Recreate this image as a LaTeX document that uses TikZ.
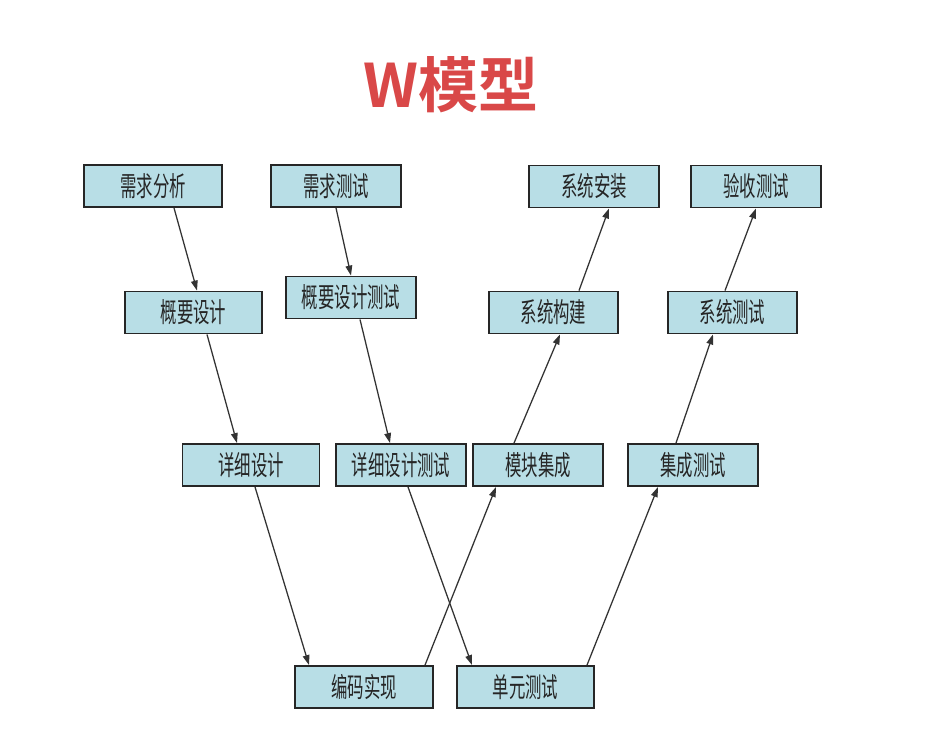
\documentclass[tikz,border=0pt]{standalone}
\usepackage{fontspec}
\newfontfamily\cjk[FakeStretch=0.6]{Noto Sans CJK SC}
\newfontfamily\cjkbold{Noto Sans CJK SC Bold}
\usetikzlibrary{arrows.meta,calc}
\definecolor{boxfill}{HTML}{B8DEE6}
\definecolor{boxline}{HTML}{262626}
\definecolor{arrline}{HTML}{333333}
\definecolor{titlered}{HTML}{D94848}
\begin{document}
\begin{tikzpicture}[x=0.75pt,y=-0.75pt,
  stagebox/.style={draw=boxline,fill=boxfill,line width=1.4pt,inner sep=0pt,
    minimum height=31.5pt,font=\cjk\fontsize{20.5pt}{22pt}\selectfont,text=black!85},
  arr/.style={draw=arrline,line width=0.95pt,-{Triangle[length=7.5pt,width=5pt]}}]
\fill[white] (0,0) rectangle (944,744);
\useasboundingbox (0,0) rectangle (944,744);
\node[font=\cjkbold\fontsize{45pt}{48pt}\selectfont,text=titlered] (title) at (451,85) {W模型};
% row 1
\node[stagebox,minimum width=103.5pt] (n1) at (153,186) {需求分析};
\node[stagebox,minimum width=97.5pt] (n2) at (336,186) {需求测试};
\node[stagebox,minimum width=97.5pt] (n3) at (594,186.5) {系统安装};
\node[stagebox,minimum width=97.5pt] (n4) at (756,186.5) {验收测试};
% row 2
\node[stagebox,minimum width=102.75pt] (r2a) at (193.5,312.5) {概要设计};
\node[stagebox,minimum width=97.5pt] (r2b) at (351,297.5) {概要设计测试};
\node[stagebox,minimum width=96.75pt] (r2c) at (553.5,312.5) {系统构建};
\node[stagebox,minimum width=96.75pt] (r2d) at (732.5,312.5) {系统测试};
% row 3
\node[stagebox,minimum width=102.75pt] (r3a) at (251,465) {详细设计};
\node[stagebox,minimum width=97.5pt] (r3b) at (401,465) {详细设计测试};
\node[stagebox,minimum width=97.5pt] (r3c) at (538,465) {模块集成};
\node[stagebox,minimum width=97.5pt] (r3d) at (693,465) {集成测试};
% row 4
\node[stagebox,minimum width=103.5pt] (r4a) at (364,687) {编码实现};
\node[stagebox,minimum width=102.75pt] (r4b) at (525.5,687) {单元测试};
% arrows
\draw[arr] ($(n1.south)+(21,0)$) -- ($(r2a.north)+(3.5,0)$);
\draw[arr] ($(n2.south)+(0,0)$) -- ($(r2b.north)+(0,0)$);
\draw[arr] ($(r2a.south)+(13.5,0)$) -- ($(r3a.north)+(-14,0)$);
\draw[arr] ($(r2b.south)+(9,0)$) -- ($(r3b.north)+(-11,0)$);
\draw[arr] ($(r3a.south)+(4,0)$) -- ($(r4a.north)+(-55,0)$);
\draw[arr] ($(r3b.south)+(7,0)$) -- ($(r4b.north)+(-53.5,0)$);
\draw[arr] ($(r4a.north)+(61,0)$) -- ($(r3c.south)+(-42,0)$);
\draw[arr] ($(r4b.north)+(61.5,0)$) -- ($(r3d.south)+(-35,0)$);
\draw[arr] ($(r3c.north)+(-24,0)$) -- ($(r2c.south)+(6.5,0)$);
\draw[arr] ($(r3d.north)+(-17,0)$) -- ($(r2d.south)+(-19.5,0)$);
\draw[arr] ($(r2c.north)+(25.5,0)$) -- ($(n3.south)+(15,0)$);
\draw[arr] ($(r2d.north)+(-7.5,0)$) -- ($(n4.south)+(0,0)$);
\end{tikzpicture}
\end{document}
